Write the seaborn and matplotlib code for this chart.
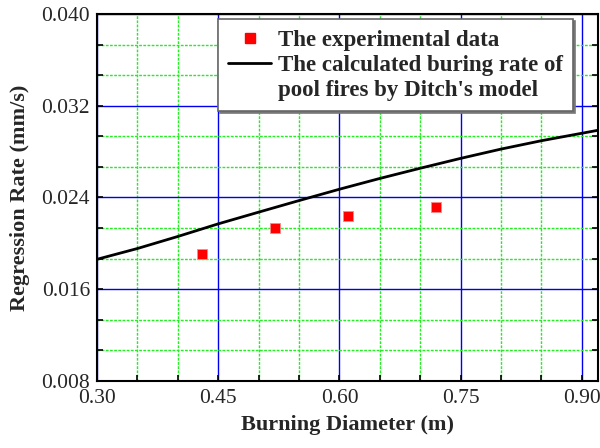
import matplotlib
matplotlib.use("Agg")
import matplotlib.pyplot as plt
from matplotlib.lines import Line2D
from matplotlib.ticker import MultipleLocator, FormatStrFormatter
import seaborn as sns
import pandas as pd

# experimental burning rates
exp_diameter = [0.43, 0.52, 0.61, 0.72]
exp_rate = [0.0191, 0.0213, 0.0224, 0.0232]

# Ditch's model curve
model_diameter = [0.30, 0.35, 0.40, 0.45, 0.50, 0.55, 0.60, 0.65, 0.70,
                  0.75, 0.80, 0.85, 0.90, 0.92]
model_rate = [0.01861, 0.01955, 0.02060, 0.02170, 0.02272, 0.02373, 0.02472,
              0.02566, 0.02655, 0.02741, 0.02822, 0.02895, 0.02960, 0.02986]

exp_df = pd.DataFrame({"d": exp_diameter, "r": exp_rate})
model_df = pd.DataFrame({"d": model_diameter, "r": model_rate})

sns.set_style("ticks")
plt.rcParams["font.family"] = ["Liberation Serif", "DejaVu Serif"]

fig = plt.figure(figsize=(6, 4.48), dpi=100)
ax = fig.add_axes([0.1617, 0.1496, 0.835, 0.8192])

sns.lineplot(data=model_df, x="d", y="r", color="black", linewidth=2,
             ax=ax, zorder=3)
sns.scatterplot(data=exp_df, x="d", y="r", marker="s", color="red",
                edgecolor="#ff8888", linewidth=0.6, s=55, ax=ax, zorder=4)

ax.set_xlim(0.30, 0.92)
ax.set_ylim(0.008, 0.040)
ax.xaxis.set_major_locator(MultipleLocator(0.15))
ax.xaxis.set_minor_locator(MultipleLocator(0.05))
ax.yaxis.set_major_locator(MultipleLocator(0.008))
ax.yaxis.set_minor_locator(MultipleLocator(0.008 / 3))
ax.xaxis.set_major_formatter(FormatStrFormatter("%.2f"))
ax.yaxis.set_major_formatter(FormatStrFormatter("%.3f"))

ax.grid(which="major", color="#0000ee", linewidth=1, linestyle="-")
ax.grid(which="minor", color="#22ee22", linewidth=1, linestyle=(0, (2, 1)))
ax.set_axisbelow(True)

ax.tick_params(which="both", direction="in", length=4, width=1.2,
               right=True, labelsize=15.5, color="black")
ax.tick_params(axis="x", pad=6)
ax.tick_params(axis="y", pad=5)
for sp in ax.spines.values():
    sp.set_linewidth(1.5)
    sp.set_color("black")

ax.set_xlabel("Burning Diameter (m)", fontsize=16, fontweight="bold", labelpad=5)
ax.set_ylabel("Regression Rate (mm/s)", fontsize=16, fontweight="bold", labelpad=8)

handles = [
    Line2D([], [], marker="s", color="red", linestyle="none", markersize=7),
    Line2D([], [], color="black", linewidth=2),
    Line2D([], [], linestyle="none"),
]
labels = ["The experimental data", "The calculated buring rate of",
          "pool fires by Ditch's model"]
leg = ax.legend(handles, labels, loc="upper left",
                bbox_to_anchor=(0.2415, 0.9856), borderaxespad=0,
                prop={"weight": "bold", "size": 16.5}, fancybox=False,
                framealpha=1, edgecolor="#666666", handlelength=1.85,
                handletextpad=0.3, labelspacing=0.18, borderpad=0.45,
                shadow={"ox": 1.5, "oy": -1.5, "color": "#777777", "alpha": 1})
leg.get_frame().set_linewidth(1.2)

fig.savefig("out.png", dpi=100)
